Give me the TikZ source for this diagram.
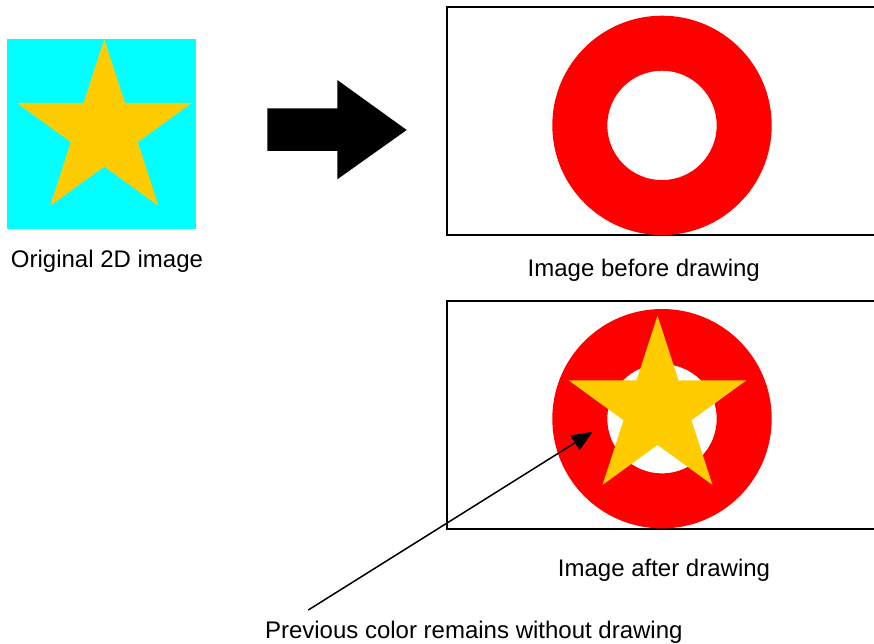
\documentclass[tikz,border=0pt]{standalone}
\usepackage{fontspec}
\setmainfont{Liberation Sans}
\usetikzlibrary{arrows.meta,calc}
\definecolor{skycyan}{HTML}{00FFFF}
\definecolor{stargold}{HTML}{FFCC00}
\definecolor{ringred}{HTML}{FF0000}
\tikzset{
  frame/.style={draw=black, line width=2pt},
  label/.style={anchor=base, inner sep=0pt, font=\fontsize{24}{28}\selectfont},
  ring/.style={fill=ringred, even odd rule},
  starfill/.style={fill=stargold},
  pointer/.style={draw=black, line width=1.5pt, -{Triangle[length=21pt,width=17pt]}},
}
\newcommand{\drawstar}[4]{% x, y, outer r, inner r
  \fill[starfill] (#1,#2) ++(270:#3) -- ($(#1,#2)+(306:#4)$) -- ($(#1,#2)+(342:#3)$)
    -- ($(#1,#2)+(18:#4)$) -- ($(#1,#2)+(54:#3)$) -- ($(#1,#2)+(90:#4)$)
    -- ($(#1,#2)+(126:#3)$) -- ($(#1,#2)+(162:#4)$) -- ($(#1,#2)+(198:#3)$)
    -- ($(#1,#2)+(234:#4)$) -- cycle;}
\begin{document}
\begin{tikzpicture}[x=1pt,y=-1pt]
\useasboundingbox (0,0) rectangle (874,644);
\clip (0,0) rectangle (874,644);
\fill[white] (0,0) rectangle (874,644);
% original image
\node[fill=skycyan, minimum width=189pt, minimum height=189pt, inner sep=0pt, anchor=north west] (orig) at (7,39.3) {};
\drawstar{104.3}{131.3}{92}{35.2}
\node[label] (origlbl) at (107,267) {Original 2D image};
% big arrow
\fill[black] (267.3,108.3) -- (337.3,108.3) -- (337.3,80) -- (406.7,130)
  -- (337.3,179.3) -- (337.3,151) -- (267.3,151) -- cycle;
% image before drawing
\draw[frame] (880,7.5) -- (446.7,7.5) -- (446.7,235) -- (880,235);
\fill[ring] (662,125.4) circle[radius=109.7] (662,125.4) circle[radius=54.7];
\node[label] (beforelbl) at (643.8,276.7) {Image before drawing};
% image after drawing
\draw[frame] (880,301) -- (446.7,301) -- (446.7,528.7) -- (880,528.7);
\fill[ring] (662,418.7) circle[radius=109.7] (662,418.7) circle[radius=54.7];
\drawstar{657.5}{409.2}{93.5}{35.7}
\node[label] (afterlbl) at (664,576.7) {Image after drawing};
% pointer
\coordinate (ptail) at (308.3,610);
\coordinate (ptip) at (592.7,431.7);
\draw[pointer] (ptail) -- (ptip);
\node[label] (prevlbl) at (473.8,638.5) {Previous color remains without drawing};
\end{tikzpicture}
\end{document}
